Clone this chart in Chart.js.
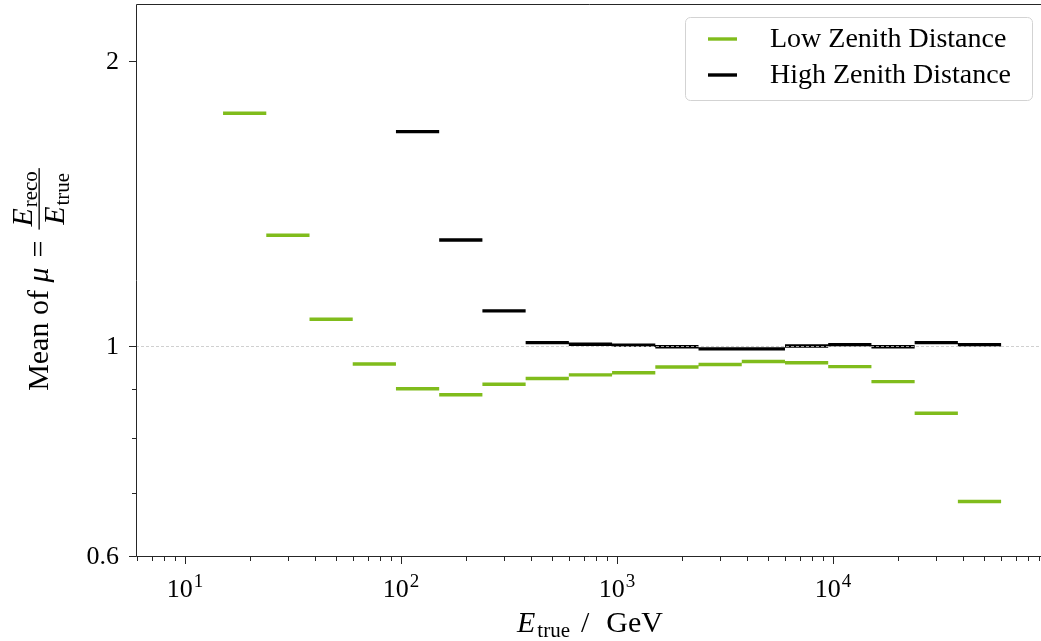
<!DOCTYPE html>
<html><head><meta charset="utf-8">
<script src="https://cdn.jsdelivr.net/npm/chart.js@4/dist/chart.umd.min.js"></script>
<style>html,body{margin:0;padding:0;background:#fff;overflow:hidden}</style>
</head><body>
<canvas id="c" width="1041" height="641"></canvas>
<script>
// ---- data ----
const binEdges = [15, 23.78, 37.70, 59.76, 94.74, 150.2, 238.1, 377.5, 598.4, 948.7, 1504, 2384, 3780, 5992, 9499, 15059, 23873, 37846, 60000];
const lowZenith  = [1.761, 1.309, 1.067, 0.957, 0.901, 0.888, 0.911, 0.924, 0.932, 0.937, 0.950, 0.956, 0.963, 0.960, 0.951, 0.917, 0.849, 0.685];
const highZenith = [null, null, null, null, 1.684, 1.294, 1.089, 1.008, 1.004, 1.002, 0.998, 0.993, 0.993, 1.000, 1.003, 0.998, 1.008, 1.003];
const seriesNames = ['Low Zenith Distance', 'High Zenith Distance'];
const seriesColors = ['#80bc1c', '#000000'];
const xMajorTicks = [10, 100, 1000, 10000];
const xMajorExp = ['1', '2', '3', '4'];
const xMinorTicks = [6,7,8,9, 20,30,40,50,60,70,80,90, 200,300,400,500,600,700,800,900,
                     2000,3000,4000,5000,6000,7000,8000,9000, 20000,30000,40000,50000,60000,70000,80000,90000];
const yLabeledTicks = [0.6, 1, 2];
const yTickLabels = ['0.6', '1', '2'];
const yMinorTicks = [0.7, 0.8, 0.9];
const refLine = 1;

function steps(vals) {
  const pts = [];
  vals.forEach((v, i) => {
    if (v == null) return;
    pts.push({x: binEdges[i], y: v}, {x: binEdges[i + 1], y: v}, {x: binEdges[i + 1], y: null});
  });
  return pts;
}

const FF = '"Liberation Serif", "DejaVu Serif", serif';
const INK = '#262626';

const decor = {
  id: 'decor',
  afterDatasetsDraw(chart) {
    const {ctx, chartArea: a, scales: {y}} = chart;
    const py = Math.round(y.getPixelForValue(refLine)) + 0.5;
    ctx.save();
    ctx.strokeStyle = '#c4c4c4';
    ctx.lineWidth = 0.8;
    ctx.setLineDash([3, 2]);
    ctx.beginPath(); ctx.moveTo(a.left, py); ctx.lineTo(a.right, py); ctx.stroke();
    ctx.restore();
  },
  afterDraw(chart) {
    const {ctx, chartArea: a, scales: {x, y}} = chart;
    ctx.save();
    // spines
    ctx.strokeStyle = INK; ctx.lineWidth = 1;
    const L = a.left + 0.5, B = a.bottom + 0.5, T = a.top + 0.5;
    ctx.beginPath();
    ctx.moveTo(L, B); ctx.lineTo(L, T); ctx.lineTo(a.right + 2, T);
    ctx.moveTo(L, B); ctx.lineTo(a.right + 2, B);
    ctx.stroke();
    // y ticks
    ctx.beginPath();
    yLabeledTicks.forEach(v => { const p = Math.round(y.getPixelForValue(v)) + 0.5; ctx.moveTo(L, p); ctx.lineTo(L - 7.5, p); });
    yMinorTicks.forEach(v => { const p = Math.round(y.getPixelForValue(v)) + 0.5; ctx.moveTo(L, p); ctx.lineTo(L - 4.5, p); });
    // x ticks
    xMajorTicks.forEach(v => { const p = Math.round(x.getPixelForValue(v)) + 0.5; ctx.moveTo(p, B); ctx.lineTo(p, B + 7.5); });
    xMinorTicks.forEach(v => { const p = Math.round(x.getPixelForValue(v)) + 0.5; if (p < a.left || p > a.right) return; ctx.moveTo(p, B); ctx.lineTo(p, B + 4.5); });
    ctx.stroke();

    ctx.fillStyle = '#000';
    // y tick labels
    ctx.font = '26px ' + FF; ctx.textAlign = 'right'; ctx.textBaseline = 'middle';
    yLabeledTicks.forEach((v, i) => ctx.fillText(yTickLabels[i], a.left - 17, y.getPixelForValue(v) + 1));
    // x tick labels
    ctx.textBaseline = 'alphabetic'; ctx.textAlign = 'left';
    xMajorTicks.forEach((v, i) => {
      const p = x.getPixelForValue(v);
      ctx.font = '26px ' + FF; const w1 = ctx.measureText('10').width;
      ctx.font = '19px ' + FF; const w2 = ctx.measureText(xMajorExp[i]).width;
      const s = p - (w1 + w2 + 1) / 2;
      ctx.font = '26px ' + FF; ctx.fillText('10', s, 597);
      ctx.font = '19px ' + FF; ctx.fillText(xMajorExp[i], s + w1 + 1, 587);
    });

    // x axis label: E_true / GeV
    {
      const base = 632;
      ctx.font = 'italic 30px ' + FF; const wE = ctx.measureText('E').width;
      ctx.font = '21px ' + FF; const wS = ctx.measureText('true').width;
      ctx.font = '30px ' + FF; const wSl = ctx.measureText('/').width, wG = ctx.measureText('GeV').width;
      const g1 = 2, g2 = 11, g3 = 17;
      let s = 590 - (wE + g1 + wS + g2 + wSl + g3 + wG) / 2;
      ctx.font = 'italic 30px ' + FF; ctx.fillText('E', s, base); s += wE + g1;
      ctx.font = '21px ' + FF; ctx.fillText('true', s, base + 5); s += wS + g2;
      ctx.font = '30px ' + FF; ctx.fillText('/', s, base); s += wSl + g3;
      ctx.fillText('GeV', s, base);
    }

    // y axis label (rotated): Mean of μ = E_reco / E_true
    {
      ctx.save();
      ctx.translate(48, 279);
      ctx.rotate(-Math.PI / 2);
      ctx.textBaseline = 'alphabetic'; ctx.textAlign = 'left';
      const f = '30px ' + FF, fi = 'italic 30px ' + FF, fs = '21px ' + FF;
      ctx.font = f; const w1 = ctx.measureText('Mean of ').width;
      ctx.font = fi; const w2 = ctx.measureText('μ').width;
      ctx.font = f; const w3 = ctx.measureText('=').width;
      ctx.font = fi; const wE = ctx.measureText('E').width;
      ctx.font = fs; const wReco = ctx.measureText('reco').width, wTrue = ctx.measureText('true').width;
      const numW = wE + 1 + wReco, denW = wE + 1 + wTrue;
      const fracW = Math.max(numW, denW) + 8;
      const gap = 10;
      const total = w1 + w2 + gap + w3 + gap + fracW;
      let u = -total / 2;
      ctx.font = f; ctx.fillText('Mean of ', u, 0); u += w1;
      ctx.font = fi; ctx.fillText('μ', u, 0); u += w2 + gap;
      ctx.font = f; ctx.fillText('=', u, 0); u += w3 + gap;
      // fraction bar
      ctx.fillRect(u + 1, -9.5, fracW - 2, 1.3);
      // numerator
      let nu = u + (fracW - numW) / 2;
      ctx.font = fi; ctx.fillText('E', nu, -16); nu += wE + 1;
      ctx.font = fs; ctx.fillText('reco', nu, -11);
      // denominator
      let du = u + (fracW - denW) / 2;
      ctx.font = fi; ctx.fillText('E', du, 16); du += wE + 1;
      ctx.font = fs; ctx.fillText('true', du, 21);
      ctx.restore();
    }

    // legend
    {
      const bx = 685.5, by = 17.5, bw = 347, bh = 83, r = 5;
      ctx.beginPath();
      ctx.moveTo(bx + r, by); ctx.lineTo(bx + bw - r, by); ctx.arcTo(bx + bw, by, bx + bw, by + r, r);
      ctx.lineTo(bx + bw, by + bh - r); ctx.arcTo(bx + bw, by + bh, bx + bw - r, by + bh, r);
      ctx.lineTo(bx + r, by + bh); ctx.arcTo(bx, by + bh, bx, by + bh - r, r);
      ctx.lineTo(bx, by + r); ctx.arcTo(bx, by, bx + r, by, r); ctx.closePath();
      ctx.fillStyle = 'rgba(255,255,255,0.85)'; ctx.fill();
      ctx.strokeStyle = '#d3d3d3'; ctx.lineWidth = 1; ctx.stroke();
      const rows = [39, 75];
      seriesNames.forEach((n, i) => {
        ctx.strokeStyle = seriesColors[i]; ctx.lineWidth = 3.4; ctx.lineCap = 'butt';
        ctx.beginPath(); ctx.moveTo(708, rows[i]); ctx.lineTo(737, rows[i]); ctx.stroke();
        ctx.fillStyle = '#000'; ctx.font = '28px ' + FF; ctx.textAlign = 'left'; ctx.textBaseline = 'alphabetic';
        ctx.fillText(n, 770, rows[i] + 8);
      });
    }
    ctx.restore();
  }
};

new Chart(document.getElementById('c'), {
  type: 'line',
  data: {
    datasets: [
      {label: seriesNames[0], data: steps(lowZenith), borderColor: seriesColors[0], borderWidth: 3.4, borderCapStyle: 'butt', pointRadius: 0, spanGaps: false, fill: false},
      {label: seriesNames[1], data: steps(highZenith), borderColor: seriesColors[1], borderWidth: 3.4, borderCapStyle: 'butt', pointRadius: 0, spanGaps: false, fill: false}
    ]
  },
  options: {
    responsive: false, animation: false, devicePixelRatio: 1,
    layout: {padding: {top: 4, right: 0, left: 0, bottom: 0}},
    plugins: {legend: {display: false}, tooltip: {enabled: false}},
    scales: {
      x: {type: 'logarithmic', min: 5.93, max: 91800, ticks: {display: false}, grid: {display: false}, border: {display: false},
          afterFit: s => { s.height = 85; }},
      y: {type: 'logarithmic', min: 0.6, max: 2.297, ticks: {display: false}, grid: {display: false}, border: {display: false},
          afterFit: s => { s.width = 136; }}
    }
  },
  plugins: [decor]
});
</script>
</body></html>
